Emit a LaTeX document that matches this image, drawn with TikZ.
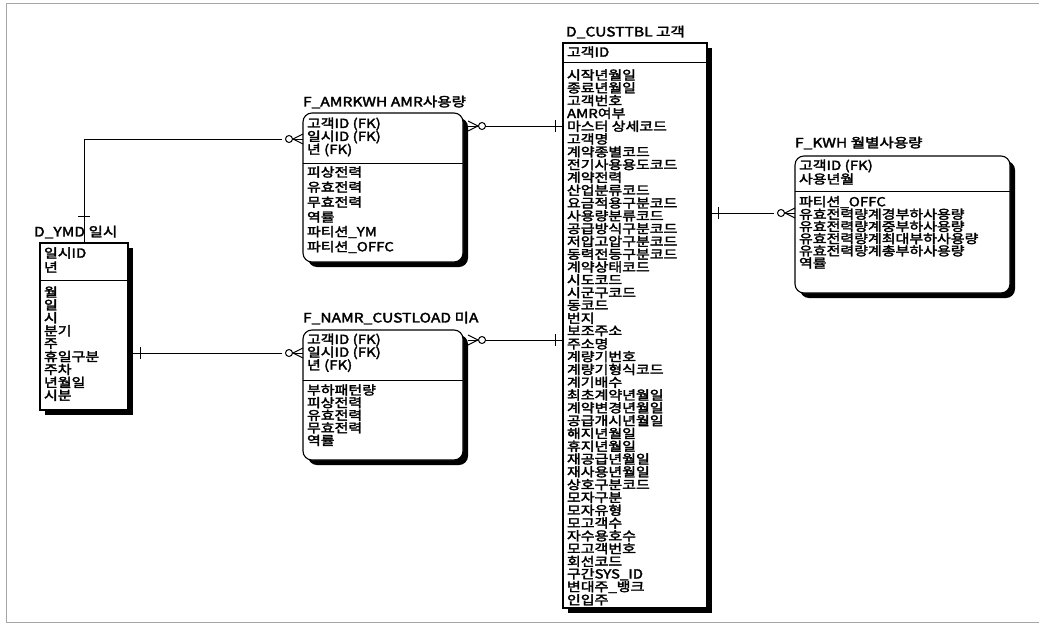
\documentclass[tikz,border=0pt]{standalone}
\usepackage{fontspec}
\usetikzlibrary{shadows}
\newfontfamily\kr[FakeBold=2.5,FakeStretch=1.2]{Noto Sans CJK KR}
\begin{document}
\begin{tikzpicture}[x=1pt,y=-1pt,
  every node/.style={inner sep=0pt, outer sep=0pt},
  ent/.style={draw=black, line width=1.1pt, fill=white, anchor=north west,
     drop shadow={shadow xshift=5pt, shadow yshift=-5pt, fill=black, opacity=1}},
  rnd/.style={rounded corners=9pt},
  ttl/.style={anchor=west, font=\kr\fontsize{13}{13}\selectfont},
  fl/.style={anchor=west, font=\kr\fontsize{12.5}{12.5}\selectfont},
  lnk/.style={line width=1pt},
  frame/.style={draw=black!35, line width=1pt},
  pics/crow/.style={code={
     \draw[lnk] (0,-5) -- (-10,0) -- (0,5);
     \draw[lnk] (-10,0) -- (0,0);
     \draw[lnk] (-14,0) circle[radius=3.5pt];
  }},
]
\useasboundingbox (0,0) rectangle (1039,624);
\draw[frame] (1045,3) -- (6,3) -- (6,622) -- (1045,622);

% entities
\node[ent, minimum width=88pt, minimum height=167pt] (ymd) at (40,243) {};
\node[ent, rnd, minimum width=160pt, minimum height=149pt] (amr) at (303,113) {};
\node[ent, rnd, minimum width=160pt, minimum height=130pt] (namr) at (303,330) {};
\node[ent, minimum width=144pt, minimum height=565pt] (cust) at (563,43) {};
\node[ent, rnd, minimum width=215pt, minimum height=137pt] (kwh) at (795,156) {};

% dividers
\draw[lnk] (40,280) -- (128,280);
\draw[lnk] (303,163) -- (463,163);
\draw[lnk] (303,380) -- (463,380);
\draw[lnk] (563,62) -- (707,62);
\draw[lnk] (795,191) -- (1010,191);

% titles
\node[ttl] (tymd) at (34,232) {D\_YMD 일시};
\node[ttl] (tamr) at (303,102) {F\_AMRKWH AMR사용량};
\node[ttl] (tnamr) at (303,318) {F\_NAMR\_CUSTLOAD 미A};
\node[ttl] (tcust) at (566,32) {D\_CUSTTBL 고객};
\node[ttl] (tkwh) at (795,143) {F\_KWH 월별사용량};

% fields
\foreach \t [count=\i from 0] in {일시ID,년}
  \node[fl] (ymdk\i) at (44,{253+14*\i}) {\t};
\foreach \t [count=\i from 0] in {월,일,시,분기,주,휴일구분,주차,년월일,시분}
  \node[fl] (ymdn\i) at (44,{292+12.9*\i}) {\t};

\foreach \t [count=\i from 0] in {고객ID (FK),일시ID (FK),년 (FK)}
  \node[fl] (amrk\i) at (307,{124+13*\i}) {\t};
\foreach \t [count=\i from 0] in {피상전력,유효전력,무효전력,역률,파티션\_YM,파티션\_OFFC}
  \node[fl] (amrn\i) at (307,{172+15*\i}) {\t};

\foreach \t [count=\i from 0] in {고객ID (FK),일시ID (FK),년 (FK)}
  \node[fl] (namrk\i) at (307,{340+12.8*\i}) {\t};
\foreach \t [count=\i from 0] in {부하패턴량,피상전력,유효전력,무효전력,역률}
  \node[fl] (namrn\i) at (307,{390+12.6*\i}) {\t};

\node[fl] (custk) at (567,52) {고객ID};
\foreach \t [count=\i from 0] in {시작년월일,종료년월일,고객번호,AMR여부,마스터 상세코드,고객명,계약종별코드,전기사용용도코드,계약전력,산업분류코드,요금적용구분코드,사용량분류코드,공급방식구분코드,저압고압구분코드,동력전등구분코드,계약상태코드,시도코드,시군구코드,동코드,번지,보조주소,주소명,계량기번호,계량기형식코드,계기배수,최초계약년월일,계약변경년월일,공급개시년월일,해지년월일,휴지년월일,재공급년월일,재사용년월일,상호구분코드,모자구분,모자유형,모고객수,자수용호수,모고객번호,회선코드,구간SYS\_ID,변대주\_뱅크,인입주}
  \node[fl] (custn\i) at (567,{75+12.8*\i}) {\t};

\foreach \t [count=\i from 0] in {고객ID (FK),사용년월}
  \node[fl] (kwhk\i) at (799,{166+13*\i}) {\t};
\foreach \t [count=\i from 0] in {파티션\_OFFC,유효전력량계경부하사용량,유효전력량계중부하사용량,유효전력량계최대부하사용량,유효전력량계총부하사용량,역률}
  \node[fl] (kwhn\i) at (799,{202+12.2*\i}) {\t};

% connectors
\coordinate (amrL) at (303,139);
\coordinate (amrLc) at (282,139);
\draw[lnk] (ymd.north) |- (amrLc);
\draw[lnk] (78,216) -- (90,216);
\pic at (amrL) {crow};

\coordinate (ymdR) at (133,353);
\coordinate (namrL) at (303,353);
\coordinate (namrLc) at (282,353);
\draw[lnk] (ymdR) -- (namrLc);
\draw[lnk] (140,347) -- (140,359);
\pic at (namrL) {crow};

\coordinate (amrR) at (468,126);
\coordinate (amrRc) at (485,126);
\coordinate (custL1) at (563,126);
\draw[lnk] (amrRc) -- (custL1);
\draw[lnk] (555,120) -- (555,132);
\pic[xscale=-1] at (amrR) {crow};

\coordinate (namrR) at (468,340);
\coordinate (namrRc) at (485,340);
\coordinate (custL2) at (563,340);
\draw[lnk] (namrRc) -- (custL2);
\draw[lnk] (555,334) -- (555,346);
\pic[xscale=-1] at (namrR) {crow};

\coordinate (custR) at (712,213);
\coordinate (kwhL) at (795,213);
\coordinate (kwhLc) at (774,213);
\draw[lnk] (custR) -- (kwhLc);
\draw[lnk] (718,207) -- (718,219);
\pic at (kwhL) {crow};
\end{tikzpicture}
\end{document}
